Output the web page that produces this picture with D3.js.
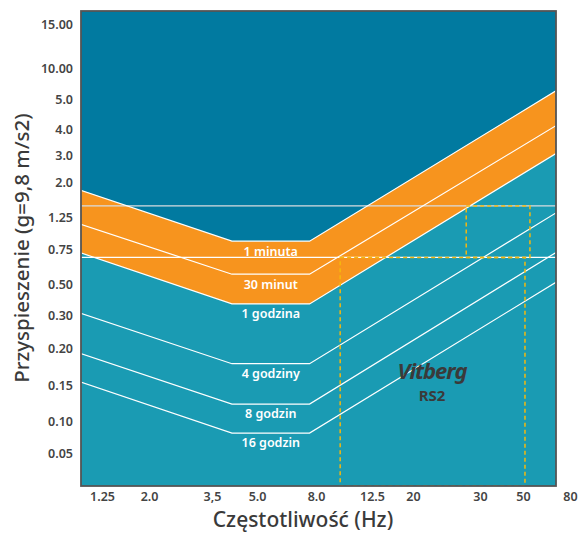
<!DOCTYPE html>
<html>
<head>
<meta charset="utf-8">
<script src="https://cdn.jsdelivr.net/npm/d3@7"></script>
<style>
  body { margin: 0; background: #fff; }
  text { font-family: "Noto Sans", "Open Sans", sans-serif; }
</style>
</head>
<body>
<script>
// tick values and labels (axes are warped, not true log)
const xTicks = [1.25, 2, 3.5, 5, 8, 12.5, 20, 30, 50, 80];
const xTickLabels = ['1.25', '2.0', '3,5', '5.0', '8.0', '12.5', '20', '30', '50', '80'];
const yTicks = [15, 10, 5, 4, 3, 2, 1.25, 0.75, 0.5, 0.3, 0.2, 0.15, 0.1, 0.05];
const yTickLabels = ['15.00', '10.00', '5.0', '4.0', '3.0', '2.0', '1.25', '0.75', '0.50', '0.30', '0.20', '0.15', '0.10', '0.05'];

// corner frequencies of the exposure curves (Hz)
const freqs = [1.0, 4.1, 7.6, 69.5];

// exposure limit curves (g) at each corner frequency
const curveNames = ['1 minuta', '30 minut', '1 godzina', '4 godziny', '8 godzin', '16 godzin'];
const curve1min = [1.8, 0.85, 0.85, 6.0];
const curve30min = [1.12, 0.56, 0.56, 4.1];
const curve1h = [0.72, 0.36, 0.36, 3.05];
const curve4h = [0.31, 0.177, 0.177, 1.32];
const curve8h = [0.192, 0.121, 0.121, 0.72];
const curve16h = [0.154, 0.077, 0.077, 0.51];

// horizontal reference levels (g)
const levels = [1.45, 0.68];

// RS2 working ranges: [fMin, fMax, gMin, gMax]
const rangeMain = [9.7, 51, 0.01, 0.68];
const rangeHigh = [27.6, 53.6, 0.68, 1.45];

// ---- layout ----
const width = 580, height = 534;
const plot = { left: 81, right: 556, top: 11, bottom: 486 };
const xTickPos = [102, 149, 212, 257, 316, 372, 413, 480, 523, 570];
const yTickPos = [24, 68, 99, 129, 155, 182, 217, 249, 284, 315, 348, 385, 421, 453];

const colors = { dark: '#017aa0', teal: '#1a9bb3', orange: '#f7941e', text: '#444', dash: '#f5b80f' };

const x = d3.scaleLog().domain(xTicks).range(xTickPos);
const y = d3.scaleLog().domain(yTicks).range(yTickPos);

const svg = d3.select('body').append('svg')
  .attr('width', width)
  .attr('height', height);

svg.append('clipPath').attr('id', 'clip')
  .append('rect')
  .attr('x', plot.left).attr('y', plot.top)
  .attr('width', plot.right - plot.left).attr('height', plot.bottom - plot.top);

const g = svg.append('g').attr('clip-path', 'url(#clip)');

// background
g.append('rect')
  .attr('x', plot.left).attr('y', plot.top)
  .attr('width', plot.right - plot.left).attr('height', plot.bottom - plot.top)
  .attr('fill', colors.dark);

const curves = [curve1min, curve30min, curve1h, curve4h, curve8h, curve16h];

// teal region below 1 godzina
const areaBelow = d3.area()
  .x((d, i) => x(freqs[i]))
  .y0(plot.bottom + 5)
  .y1(d => y(d));
g.append('path').datum(curve1h).attr('d', areaBelow).attr('fill', colors.teal);

// orange band between 1 minuta and 1 godzina
const band = d3.area()
  .x((d, i) => x(freqs[i]))
  .y0((d, i) => y(curve1h[i]))
  .y1(d => y(d));
g.append('path').datum(curve1min).attr('d', band).attr('fill', colors.orange);

// horizontal levels
g.selectAll('.level')
  .data(levels)
  .enter().append('line')
  .attr('x1', plot.left).attr('x2', plot.right)
  .attr('y1', d => y(d)).attr('y2', d => y(d))
  .attr('stroke', (d, i) => i === 0 ? '#d8dde0' : '#fff')
  .attr('stroke-width', 1.3);

// curve lines
const line = d3.line()
  .x((d, i) => x(freqs[i]))
  .y(d => y(d));
g.selectAll('.curve')
  .data(curves)
  .enter().append('path')
  .attr('d', line)
  .attr('fill', 'none')
  .attr('stroke', '#fff')
  .attr('stroke-width', 1.2);

// dashed RS2 ranges
function dashedRect(r) {
  g.append('rect')
    .attr('x', x(r[0]))
    .attr('y', y(r[3]))
    .attr('width', x(r[1]) - x(r[0]))
    .attr('height', Math.max(0, Math.min(y(r[2]), plot.bottom) - y(r[3])))
    .attr('fill', 'none')
    .attr('stroke', colors.dash)
    .attr('stroke-width', 1.5)
    .attr('stroke-dasharray', '4,3');
}
dashedRect(rangeMain);
dashedRect(rangeHigh);

// curve labels
g.selectAll('.clabel')
  .data(curves)
  .enter().append('text')
  .attr('x', (x(freqs[1]) + x(freqs[2])) / 2)
  .attr('y', d => y(d[1]) + 10)
  .attr('dy', '0.35em')
  .attr('text-anchor', 'middle')
  .attr('fill', '#fff')
  .attr('font-size', 12.5)
  .attr('font-weight', 600)
  .text((d, i) => curveNames[i]);

// logo
g.append('text')
  .attr('x', 432).attr('y', 379)
  .attr('text-anchor', 'middle')
  .attr('fill', '#3a3a3a')
  .attr('font-family', '"DejaVu Serif", serif')
  .attr('font-style', 'italic')
  .attr('font-weight', 700)
  .attr('font-size', 22)
  .attr('letter-spacing', -1)
  .text('Vitberg');
g.append('text')
  .attr('x', 432).attr('y', 401)
  .attr('text-anchor', 'middle')
  .attr('fill', '#3a3a3a')
  .attr('font-weight', 700)
  .attr('font-size', 15)
  .text('RS2');

// frame
svg.append('rect')
  .attr('x', plot.left).attr('y', plot.top)
  .attr('width', plot.right - plot.left).attr('height', plot.bottom - plot.top)
  .attr('fill', 'none')
  .attr('stroke', '#555')
  .attr('stroke-width', 1.8);

// axes
const yAxis = svg.append('g')
  .attr('transform', `translate(${plot.left},0)`)
  .call(d3.axisLeft(y).tickValues(yTicks).tickFormat((d, i) => yTickLabels[i]).tickSize(0).tickPadding(8));
const xAxis = svg.append('g')
  .attr('transform', `translate(0,${plot.bottom})`)
  .call(d3.axisBottom(x).tickValues(xTicks).tickFormat((d, i) => xTickLabels[i]).tickSize(0).tickPadding(6));

[xAxis, yAxis].forEach(ax => {
  ax.select('.domain').remove();
  ax.selectAll('text')
    .attr('fill', colors.text)
    .attr('font-size', 12.5)
    .attr('font-weight', 600)
    .attr('font-family', '"Noto Sans", sans-serif');
});

// axis titles
svg.append('text')
  .attr('transform', 'translate(29,248) rotate(-90)')
  .attr('text-anchor', 'middle')
  .attr('fill', '#3a3a3a')
  .attr('font-size', 20.5)
  .attr('font-weight', 500)
  .text('Przyspieszenie (g=9,8 m/s2)');
svg.append('text')
  .attr('x', 303).attr('y', 527)
  .attr('text-anchor', 'middle')
  .attr('fill', '#3a3a3a')
  .attr('font-size', 21)
  .attr('font-weight', 500)
  .text('Częstotliwość (Hz)');
</script>
</body>
</html>
